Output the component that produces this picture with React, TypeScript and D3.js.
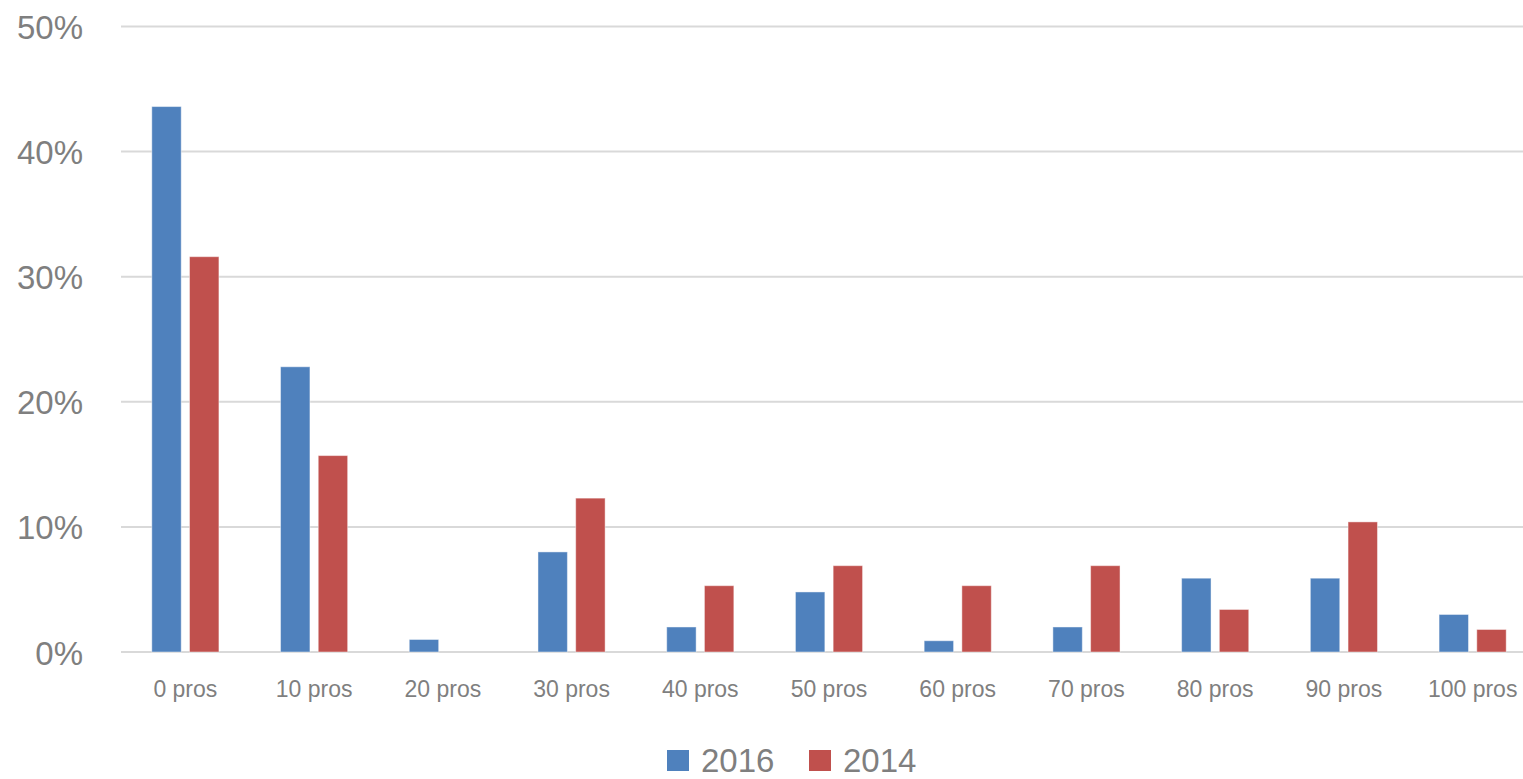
import React from "react";
import * as d3 from "d3";

const categories = ["0 pros", "10 pros", "20 pros", "30 pros", "40 pros", "50 pros", "60 pros", "70 pros", "80 pros", "90 pros", "100 pros"];
const seriesNames = ["2016", "2014"];
const values2016 = [0.436, 0.228, 0.01, 0.08, 0.02, 0.048, 0.009, 0.02, 0.059, 0.059, 0.03];
const values2014 = [0.316, 0.157, 0, 0.123, 0.053, 0.069, 0.053, 0.069, 0.034, 0.104, 0.018];
const colors = ["#4F81BD", "#C0504D"];
const yTicks = [0, 0.1, 0.2, 0.3, 0.4, 0.5];

const W = 1523;
const H = 779;
const TEXT = "#7F7F7F";
const FONT = "'Liberation Sans', Arial, sans-serif";

export default function App() {
  const x = d3.scaleBand<string>().domain(categories).range([121, 1537]).padding(0);
  const outer = 30.8;
  const xs = d3
    .scaleBand<string>()
    .domain(seriesNames)
    .range([outer, x.bandwidth() - outer])
    .paddingInner(0.22);
  const y = d3.scaleLinear().domain([0, 0.5]).range([652, 26.5]);
  const fmt = d3.format(".0%");
  const seriesValues = [values2016, values2014];

  return (
    <svg
      width={W}
      height={H}
      style={{ position: "absolute", left: 0, top: 0, background: "#fff" }}
      fontFamily={FONT}
    >
      <rect x={0} y={0} width={W} height={H} fill="#fff" />
      {yTicks.map((t) => (
        <g key={t}>
          <line x1={121} x2={1537} y1={y(t)} y2={y(t)} stroke="#D9D9D9" strokeWidth={2} />
          <text x={83} y={y(t) + 12.5} textAnchor="end" fontSize={33} fill={TEXT}>
            {fmt(t)}
          </text>
        </g>
      ))}
      {categories.map((c, i) => (
        <g key={c}>
          {seriesNames.map((s, k) => {
            const v = seriesValues[k][i];
            if (v <= 0) return null;
            const bx = (x(c) as number) + (xs(s) as number);
            return (
              <rect
                key={s}
                x={bx}
                y={y(v)}
                width={xs.bandwidth()}
                height={y(0) - y(v)}
                fill={colors[k]}
                stroke="#ffffff"
                strokeOpacity={0.45}
                strokeWidth={1}
              />
            );
          })}
          <text
            x={(x(c) as number) + x.bandwidth() / 2}
            y={697}
            textAnchor="middle"
            fontSize={23}
            fill={TEXT}
          >
            {c}
          </text>
        </g>
      ))}
      {seriesNames.map((s, k) => {
        const lx = k === 0 ? 667 : 809;
        return (
          <g key={s}>
            <rect x={lx} y={750} width={22} height={21} fill={colors[k]} />
            <text x={lx + 34} y={772} fontSize={33} fill={TEXT}>
              {s}
            </text>
          </g>
        );
      })}
    </svg>
  );
}
